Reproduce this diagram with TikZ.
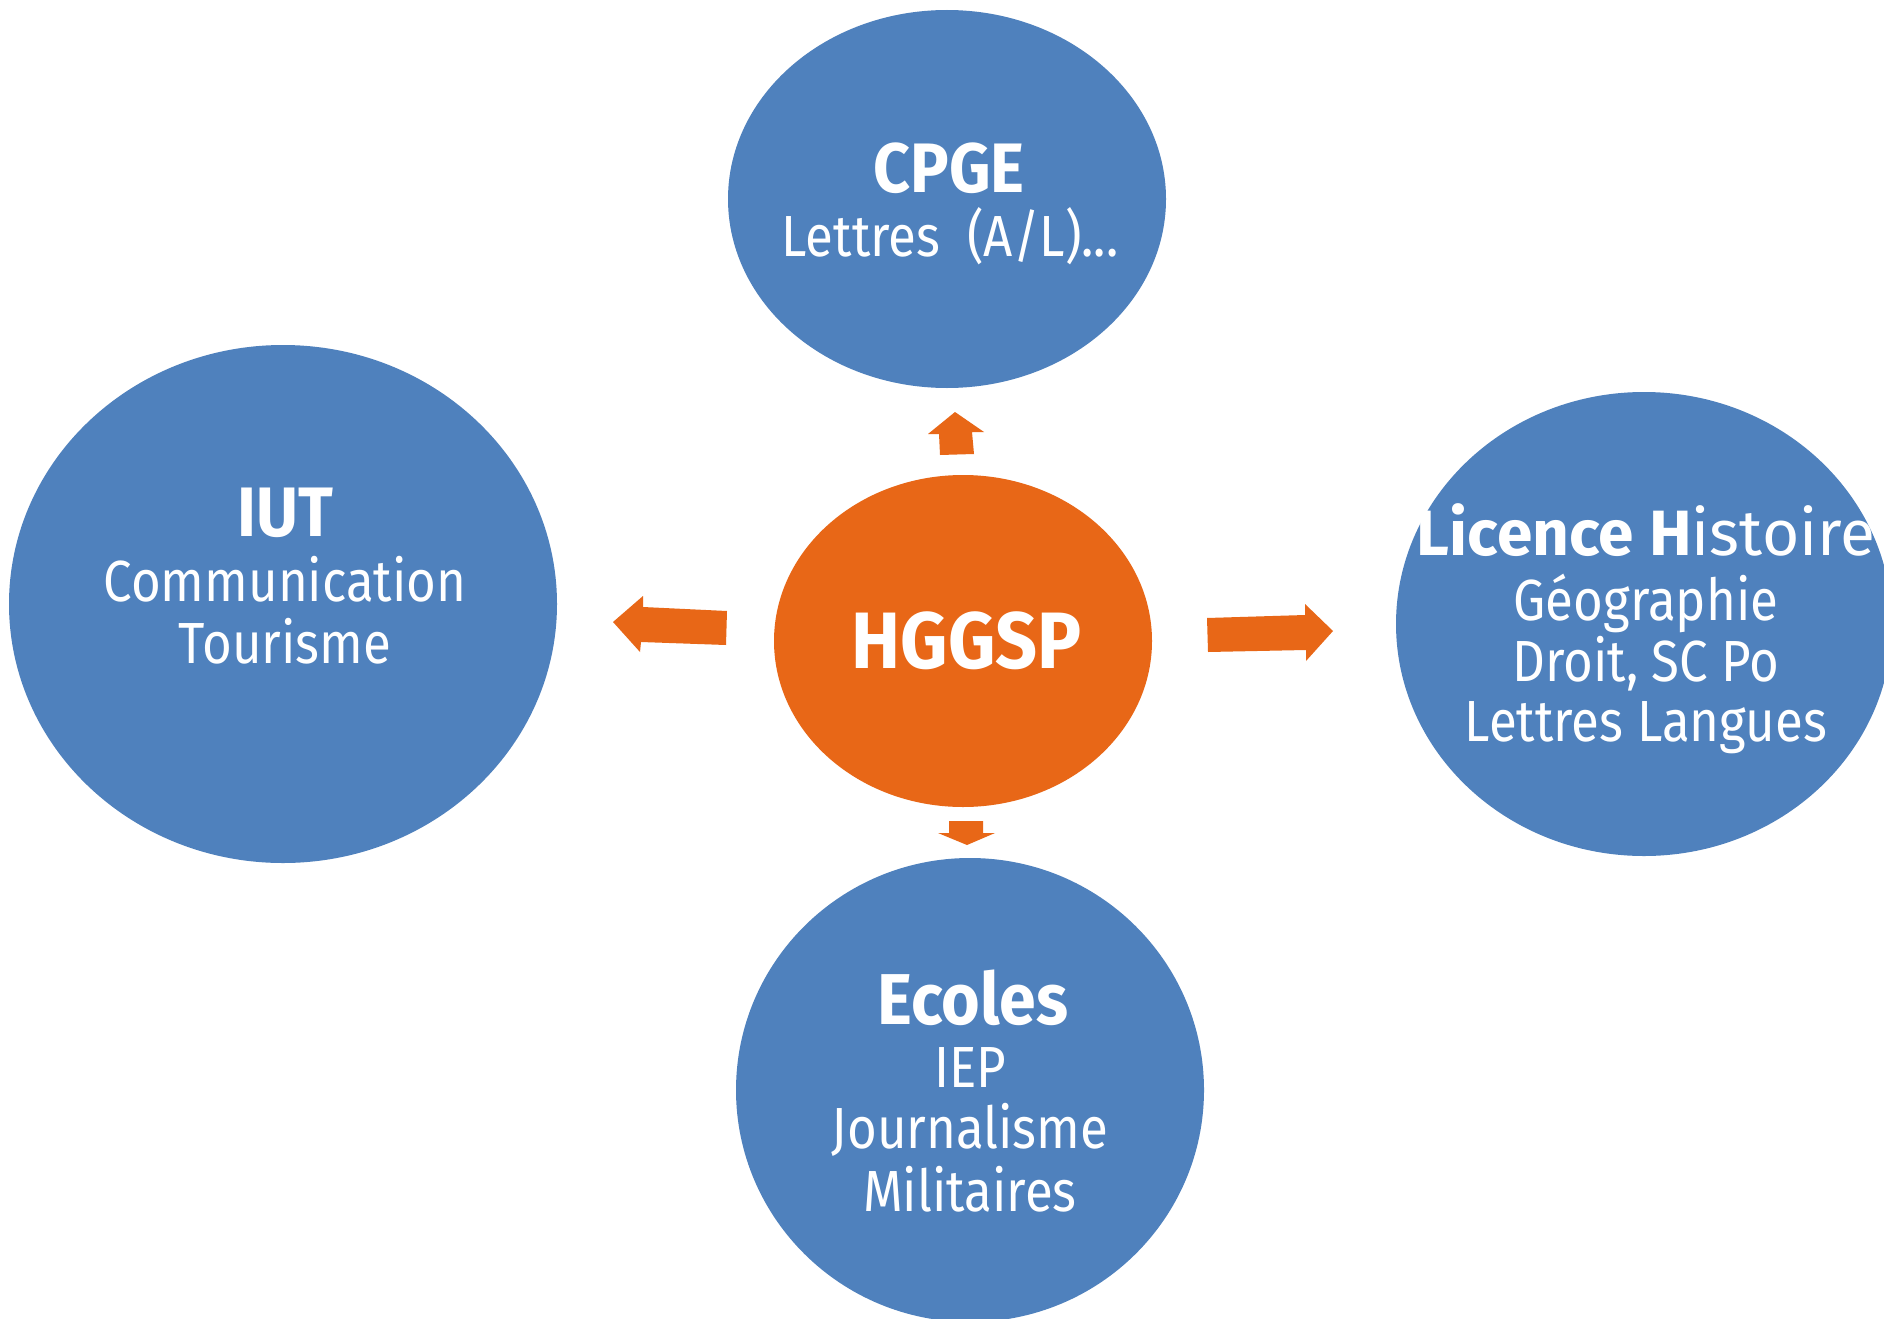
\documentclass[tikz,border=0pt]{standalone}
\usepackage{fontspec}
\setmainfont{Fira Sans}[FakeStretch=0.88, BoldFeatures={FakeStretch=0.92}]
\newfontfamily\licfont{Fira Sans}
\usetikzlibrary{shapes.geometric}
\definecolor{bubble}{HTML}{4F81BD}
\definecolor{hot}{HTML}{E86717}
\tikzset{
  bubble/.style={ellipse, fill=bubble, draw=none, inner sep=0pt},
  ttl/.style={anchor=base, text=white, inner sep=0pt, font=\fontsize{70}{70}\selectfont\bfseries},
  body/.style={anchor=base, text=white, inner sep=0pt, font=\fontsize{58}{58}\selectfont},
  blockarrow/.style={fill=hot, draw=none}
}
\begin{document}
\begin{tikzpicture}[x=1pt,y=-1pt]
\path[use as bounding box] (0,0) rectangle (1884,1319);
\fill[white] (0,0) rectangle (1884,1319);
% bubbles
\node[bubble, minimum width=438pt, minimum height=378pt] (cpge) at (947,199) {};
\node[bubble, minimum width=548pt, minimum height=518pt] (iut) at (283,604) {};
\node[bubble, minimum width=496pt, minimum height=464pt] (lic) at (1644,624) {};
\node[bubble, minimum width=468pt, minimum height=464pt] (eco) at (970,1090) {};
\node[ellipse, fill=hot, inner sep=0pt, minimum width=378pt, minimum height=332pt] (hg) at (963,641) {};
% arrows
\fill[blockarrow] (955,412) -- (984,432) -- (972,432) -- (974,454) -- (940,455) -- (939,434) -- (928,434) -- cycle;
\fill[blockarrow] (613,622) -- (643,596) -- (643,607) -- (727,611) -- (726,645) -- (641,642) -- (640,652) -- cycle;
\fill[blockarrow] (1333,631) -- (1305,604) -- (1305,615) -- (1207,618) -- (1208,652) -- (1306,650) -- (1306,661) -- cycle;
\fill[blockarrow] (967,845) -- (995,833) -- (983,833) -- (983,821) -- (949,821) -- (949,833) -- (938,833) -- cycle;
% texts
\node[ttl] (t1) at (949,192) {CPGE};
\node[body] (t2) at (950,256) {Lettres\ \ (A/L)...};
\node[ttl] (t3) at (285,536) {IUT};
\node[body] (t4) at (285,601) {Communication};
\node[body] (t5) at (285,663) {Tourisme};
\node[ttl, font=\fontsize{80}{80}\selectfont\bfseries] (t6) at (967,668) {HGGSP};
\node[ttl, font=\fontsize{64}{64}\selectfont\licfont] (t7) at (1646,555) {\textbf{Licence H}istoire};
\node[body] (t8) at (1646,620) {Géographie};
\node[body] (t9) at (1646,681) {Droit, SC Po};
\node[body] (t10) at (1646,741) {Lettres Langues};
\node[ttl, font=\fontsize{72}{72}\selectfont\bfseries] (t11) at (973,1024) {Ecoles};
\node[body] (t12) at (970,1087) {IEP};
\node[body] (t13) at (970,1148) {Journalisme};
\node[body] (t14) at (970,1211) {Militaires};
\end{tikzpicture}
\end{document}
